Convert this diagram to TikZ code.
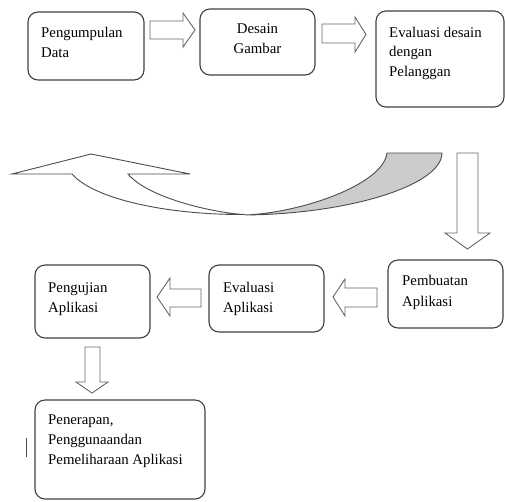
\documentclass[tikz,border=0pt]{standalone}
\usepackage{fontspec}
\setmainfont{Liberation Serif}
\begin{document}
\begin{tikzpicture}[x=1pt,y=-1pt,
  box/.style={draw=black!75,line width=1.1pt,rounded corners=10pt,inner sep=0pt},
  lbl/.style={inner sep=0pt,align=left,anchor=north west,text=black,
    font=\fontsize{14.8}{20}\selectfont},
  blockarrow/.style={draw=black!60,line width=0.9pt,fill=white,line join=miter},
  ribbon/.style={draw=black!70,line width=0.9pt}]
\useasboundingbox (0,0) rectangle (505,501);
% boxes
\node[box,minimum width=116pt,minimum height=68pt] (b1) at (86,46) {};
\node[box,minimum width=115pt,minimum height=66pt] (b2) at (257.5,42) {};
\node[box,minimum width=128pt,minimum height=96pt] (b3) at (440,59) {};
\node[box,minimum width=115pt,minimum height=73pt] (b4) at (92.5,301.5) {};
\node[box,minimum width=115pt,minimum height=67pt] (b5) at (266.5,298.5) {};
\node[box,minimum width=115pt,minimum height=68pt] (b6) at (445.5,294) {};
\node[box,minimum width=170pt,minimum height=99pt] (b7) at (120,449.5) {};
% texts
\node[lbl] (t1) at (41,27) {Pengumpulan\\Data};
\node[lbl,align=center,anchor=north] (t2) at (257.5,23) {Desain\\Gambar};
\node[lbl,font=\fontsize{14.8}{19.5}\selectfont] (t3) at (389,27) {Evaluasi desain\\dengan\\Pelanggan};
\node[lbl] (t4) at (48,282) {Pengujian\\Aplikasi};
\node[lbl] (t5) at (223,282) {Evaluasi\\Aplikasi};
\node[lbl,font=\fontsize{14.8}{21.5}\selectfont] (t6) at (402,275) {Pembuatan\\Aplikasi};
\node[lbl] (t7) at (48,415) {Penerapan,\\Penggunaandan\\Pemeliharaan Aplikasi};
% block arrows right
\draw[blockarrow] (150,21) -- (183,21) -- (183,13) -- (195,30) -- (183,47) -- (183,39) -- (150,39) -- cycle;
\draw[blockarrow] (322,24) -- (355,24) -- (355,17) -- (366,34.5) -- (355,52) -- (355,43) -- (322,43) -- cycle;
% block arrows left
\draw[blockarrow] (201,289) -- (170,289) -- (170,278) -- (157,297) -- (170,316) -- (170,307) -- (201,307) -- cycle;
\draw[blockarrow] (377,288) -- (345,288) -- (345,279) -- (333,297) -- (345,316) -- (345,307) -- (377,307) -- cycle;
% block arrows down
\draw[blockarrow] (457,153) -- (478,153) -- (478,233) -- (490,233) -- (467.5,249) -- (445,233) -- (457,233) -- cycle;
\draw[blockarrow] (85,347) -- (100,347) -- (100,382) -- (108,382) -- (92,393) -- (76,382) -- (85,382) -- cycle;
% curved ribbon arrow: shaded back part
\draw[ribbon,fill=black!20] (387,153) -- (442,153)
  .. controls (442,185) and (350,214) .. (245,215)
  .. controls (300,213) and (383,185) .. (387,153) -- cycle;
% white front part with head
\draw[ribbon,fill=white,line join=miter] (72,174) -- (12,174) -- (91,154) -- (190,174) -- (128,174)
  .. controls (150,200) and (222,214) .. (245,214.5)
  .. controls (170,215) and (95,200) .. (72,174) -- cycle;
% stray mark
\draw[black!70,line width=0.9pt] (26,438) -- (26,457);
\end{tikzpicture}
\end{document}
